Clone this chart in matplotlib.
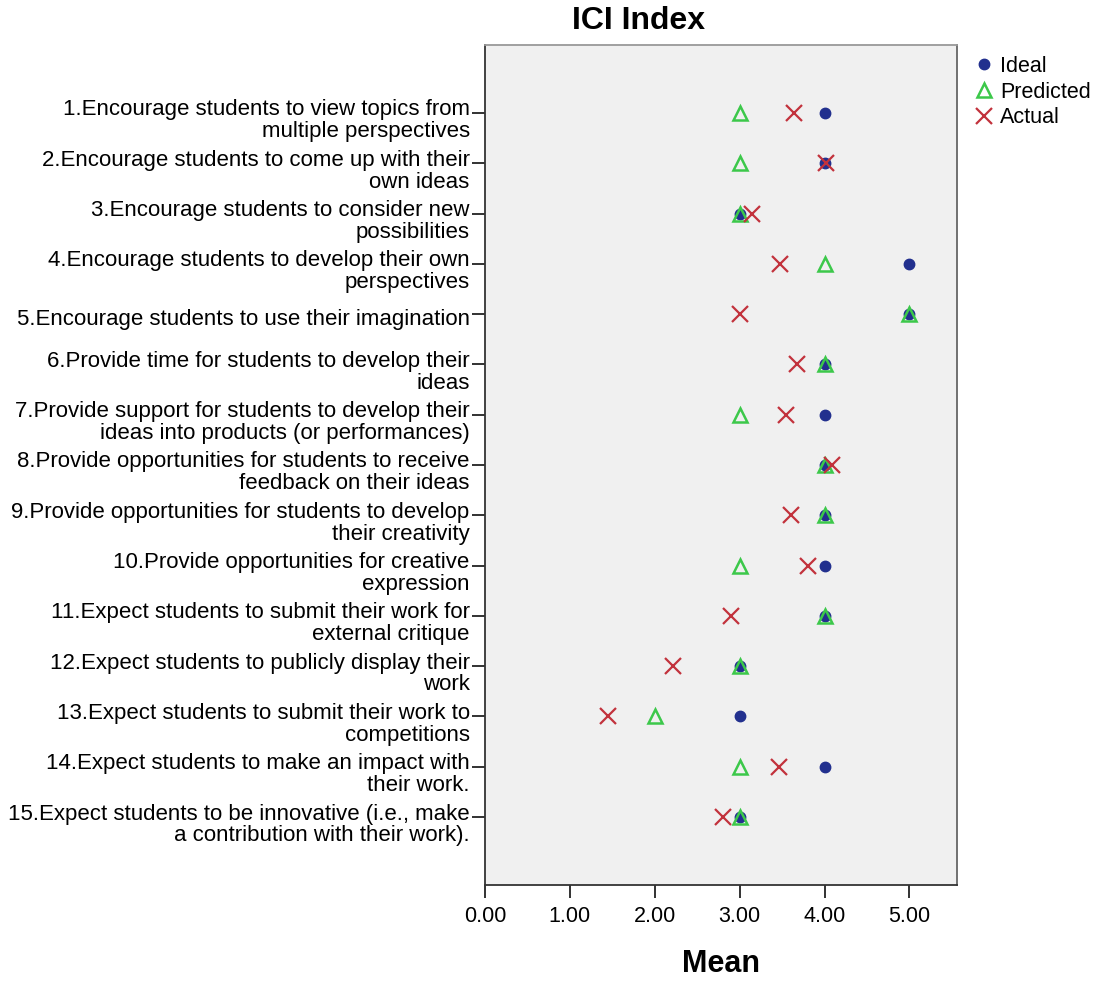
import matplotlib
matplotlib.use("Agg")
import matplotlib.pyplot as plt
from matplotlib.lines import Line2D
from matplotlib.transforms import ScaledTranslation

plt.rcParams['font.family'] = ['Liberation Sans', 'DejaVu Sans']

items = [
    "1.Encourage students to view topics from\nmultiple perspectives",
    "2.Encourage students to come up with their\nown ideas",
    "3.Encourage students to consider new\npossibilities",
    "4.Encourage students to develop their own\nperspectives",
    "5.Encourage students to use their imagination",
    "6.Provide time for students to develop their\nideas",
    "7.Provide support for students to develop their\nideas into products (or performances)",
    "8.Provide opportunities for students to receive\nfeedback on their ideas",
    "9.Provide opportunities for students to develop\ntheir creativity",
    "10.Provide opportunities for creative\nexpression",
    "11.Expect students to submit their work for\nexternal critique",
    "12.Expect students to publicly display their\nwork",
    "13.Expect students to submit their work to\ncompetitions",
    "14.Expect students to make an impact with\ntheir work.",
    "15.Expect students to be innovative (i.e., make\na contribution with their work).",
]
ideal = [4, 4, 3, 5, 5, 4, 4, 4, 4, 4, 4, 3, 3, 4, 3]
predicted = [3, 3, 3, 4, 5, 4, 3, 4, 4, 3, 4, 3, 2, 3, 3]
actual = [3.64, 4.02, 3.15, 3.48, 3.00, 3.67, 3.54, 4.09, 3.60, 3.80, 2.90, 2.22, 1.45, 3.46, 2.80]
xticks = [0, 1, 2, 3, 4, 5]

C_IDEAL = '#22308E'
C_PRED = '#3CC84A'
C_ACT = '#C2323C'

fig = plt.figure(figsize=(10.98, 9.81), dpi=100)
ax = fig.add_axes([0.4417, 0.0979, 0.4299, 0.8562])
ax.set_facecolor('#F0F0F0')
ypos = list(range(len(items)))

ax.plot(ideal, ypos, linestyle='none', marker='o', markersize=7.5,
        color=C_IDEAL, zorder=3)
ax.plot(predicted, ypos, linestyle='none', marker='^', markersize=9.5,
        markerfacecolor='none', markeredgecolor=C_PRED, markeredgewidth=1.8, zorder=4)
ax.plot(actual, ypos, linestyle='none', marker='x', markersize=12,
        markeredgecolor=C_ACT, markeredgewidth=1.6, zorder=5)

ax.set_xlim(0, 5.56)
ax.set_ylim(len(items) - 1 + 1.35, -1.35)
ax.set_xticks(xticks)
ax.set_xticklabels([f"{v:.2f}" for v in xticks], fontsize=15.5)
ax.set_yticks(ypos)
ax.set_yticklabels(items, fontsize=16, linespacing=1.05)
ax.tick_params(axis='both', direction='out', length=9.5, width=1.3, color='#222222')
ax.tick_params(axis='y', pad=1.5)
ax.tick_params(axis='x', pad=6)
for lab in ax.get_yticklabels():
    dy = 5 if '\n' in lab.get_text() else 3
    lab.set_transform(lab.get_transform() + ScaledTranslation(0, -dy / 100, fig.dpi_scale_trans))
for s in ax.spines.values():
    s.set_color('#333333')
    s.set_linewidth(1.3)
ax.spines['top'].set_color('#999999')
ax.spines['right'].set_color('#666666')

fig.text(638 / 1098, 1 - 29 / 981, "ICI Index", fontsize=23, fontweight='bold',
         ha='center', va='baseline')
fig.text(721 / 1098, 1 - 972 / 981, "Mean", fontsize=22, fontweight='bold',
         ha='center', va='baseline')

handles = [
    Line2D([], [], linestyle='none', marker='o', markersize=7.5, color=C_IDEAL),
    Line2D([], [], linestyle='none', marker='^', markersize=9.5, markerfacecolor='none',
           markeredgecolor=C_PRED, markeredgewidth=1.8),
    Line2D([], [], linestyle='none', marker='x', markersize=12,
           markeredgecolor=C_ACT, markeredgewidth=1.6),
]
fig.legend(handles, ['Ideal', 'Predicted', 'Actual'], loc='upper left',
           bbox_to_anchor=(0.888, 0.943), frameon=False, fontsize=15.5,
           handlelength=0.8, handletextpad=0.35, labelspacing=0.22, borderaxespad=0,
           borderpad=0)

fig.savefig("out.png", dpi=100, facecolor='white')
